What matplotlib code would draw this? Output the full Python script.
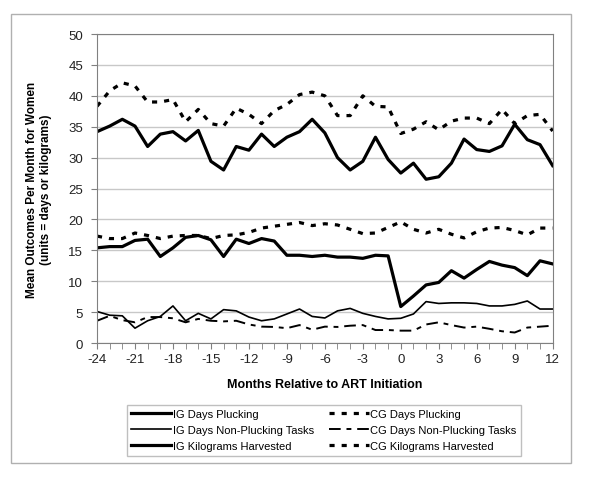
import matplotlib
matplotlib.use('Agg')
import matplotlib.pyplot as plt
from matplotlib.patches import Rectangle

plt.rcParams['font.family'] = ['Liberation Sans', 'DejaVu Sans']
plt.rcParams['axes.unicode_minus'] = False

# months relative to ART initiation
months = list(range(-24, 13))

ig_days_plucking = [15.4, 15.6, 15.6, 16.6, 16.8, 14.0, 15.4, 17.1, 17.4, 16.7, 14.0, 16.8, 16.1,
                    16.9, 16.5, 14.2, 14.2, 14.0, 14.2, 13.9, 13.9, 13.7, 14.2, 14.1,
                    5.9, 7.6, 9.4, 9.8, 11.7, 10.5, 11.9, 13.2, 12.6, 12.2, 10.9, 13.3, 12.8]
cg_days_plucking = [17.3, 16.9, 16.9, 17.8, 17.4, 16.9, 17.3, 17.4, 17.4, 16.9, 17.4, 17.5, 17.9,
                    18.6, 18.9, 19.2, 19.5, 19.0, 19.3, 19.1, 18.4, 17.7, 17.8, 18.7,
                    19.6, 18.4, 17.8, 18.4, 17.6, 17.0, 18.0, 18.6, 18.7, 18.2, 17.5, 18.6, 18.6]
ig_days_nonpluck = [5.1, 4.5, 4.4, 2.4, 3.6, 4.3, 6.0, 3.6, 4.8, 3.9, 5.4, 5.2, 4.2,
                    3.6, 3.9, 4.7, 5.5, 4.3, 4.05, 5.2, 5.6, 4.8, 4.3, 3.9,
                    4.0, 4.7, 6.7, 6.4, 6.5, 6.5, 6.4, 6.0, 6.0, 6.25, 6.8, 5.5, 5.5]
cg_days_nonpluck = [3.6, 4.4, 3.7, 3.35, 4.2, 4.2, 4.0, 3.35, 3.9, 3.6, 3.5, 3.6, 3.0,
                    2.65, 2.6, 2.4, 2.9, 2.15, 2.65, 2.6, 2.8, 2.9, 2.1, 2.1,
                    2.0, 2.0, 3.0, 3.35, 2.9, 2.5, 2.65, 2.3, 1.9, 1.7, 2.5, 2.65, 2.8]
ig_kilograms = [34.2, 35.1, 36.2, 35.1, 31.8, 33.8, 34.2, 32.7, 34.4, 29.4, 28.0, 31.8, 31.2,
                33.8, 31.8, 33.3, 34.2, 36.2, 34.0, 30.0, 28.0, 29.4, 33.3, 29.7,
                27.5, 29.1, 26.5, 26.9, 29.1, 33.0, 31.3, 31.0, 31.9, 35.4, 32.9, 32.1, 28.7]
cg_kilograms = [38.3, 40.8, 42.1, 41.6, 39.0, 39.0, 39.4, 35.8, 37.8, 35.5, 35.1, 38.0, 37.0,
                35.5, 37.6, 38.6, 40.2, 40.6, 40.0, 36.8, 36.8, 40.0, 38.3, 38.2,
                33.9, 34.6, 35.8, 34.5, 35.9, 36.4, 36.4, 35.5, 37.8, 35.5, 36.8, 37.0, 34.3]

fig = plt.figure(figsize=(6, 4.85), dpi=100)
ax = fig.add_axes([0.1617, 0.2907, 0.9211 - 0.1617, 0.9278 - 0.2907])

thick = 2.3
thin = 1.2
sq_dot = (0, (1.6, 2.2))
ln_dash = (0, (6, 3, 2.5, 3))

ax.plot(months, ig_days_plucking, color='black', lw=thick, label='IG Days Plucking')
ax.plot(months, ig_days_nonpluck, color='black', lw=thin, label='IG Days Non-Plucking Tasks')
ax.plot(months, ig_kilograms, color='black', lw=thick, label='IG Kilograms Harvested')
ax.plot(months, cg_days_plucking, color='black', lw=thick, ls=sq_dot, label='CG Days Plucking')
ax.plot(months, cg_days_nonpluck, color='black', lw=thin + 0.2, ls=ln_dash, label='CG Days Non-Plucking Tasks')
ax.plot(months, cg_kilograms, color='black', lw=thick, ls=sq_dot, label='CG Kilograms Harvested')

ax.set_xlim(-24, 12)
ax.set_ylim(0, 50)
ax.set_xticks(range(-24, 13, 3))
ax.set_xticks(range(-24, 13), minor=True)
ax.set_yticks(range(0, 51, 5))
ax.yaxis.grid(True, color='#c8c8c8', lw=1)
ax.set_axisbelow(True)
for s in ax.spines.values():
    s.set_color('#808080')
ax.tick_params(axis='both', which='both', direction='out', length=4, color='#808080',
               labelsize=9.5, labelcolor='#222222')
ax.tick_params(axis='y', pad=6)

ax.set_xlabel('Months Relative to ART Initiation', fontsize=9, fontweight='bold', labelpad=9)
ax.set_ylabel('Mean Outcomes Per Month for Women\n(units = days or kilograms)',
              fontsize=8.5, fontweight='bold', labelpad=12)

# outer chart border
fig.patches.append(Rectangle((10.7 / 600, 1 - 464 / 485), 560 / 600, 449 / 485,
                             transform=fig.transFigure, fill=False, edgecolor='#b0b0b0', lw=1))

leg = fig.legend(loc='center', bbox_to_anchor=(0.54, 0.111), ncol=2, fontsize=8,
                 frameon=True, fancybox=False, handlelength=3.6, handletextpad=0.1,
                 columnspacing=1.4, labelspacing=0.55, borderpad=0.4)
leg.get_frame().set_edgecolor('#b0b0b0')
leg.get_frame().set_linewidth(1)

fig.savefig('out.png', dpi=100)
